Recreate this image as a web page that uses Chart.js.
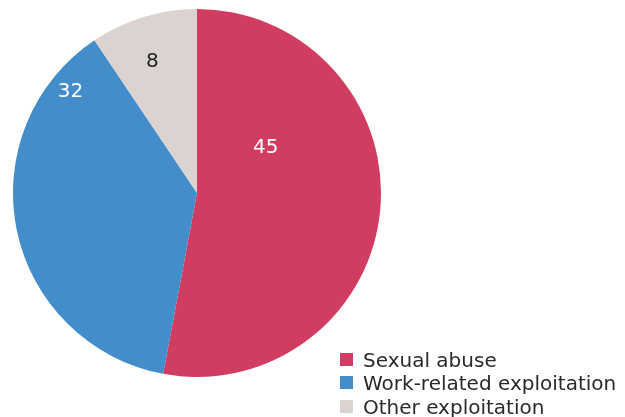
<!DOCTYPE html>
<html><head><meta charset="utf-8">
<script src="https://cdn.jsdelivr.net/npm/chart.js@4"></script>
<style>html,body{margin:0;padding:0;background:#fff}#wrap{width:625px;height:417px}</style>
</head><body><div id="wrap"><canvas id="c" width="625" height="417"></canvas></div>
<script>
const categories = ["Sexual abuse", "Work-related exploitation", "Other exploitation"];
const values = [45, 32, 8];
const colors = ["#d13d60", "#428dca", "#dbd3d0"];
const labelColors = ["#ffffff", "#ffffff", "#222222"];
// label placement: fraction along the segment's angle, fraction of the radius
const labelAngleFrac = [0.294, 0.874, 0.45];
const labelRadiusFrac = [0.45, 0.886, 0.76];

const FONT = '20px "DejaVu Sans", Verdana, sans-serif';

const labelPlugin = {
  id: 'sliceLabels',
  afterDatasetsDraw(chart) {
    const ctx = chart.ctx;
    const meta = chart.getDatasetMeta(0);
    ctx.save();
    ctx.font = FONT;
    ctx.textAlign = 'center';
    ctx.textBaseline = 'middle';
    meta.data.forEach((arc, i) => {
      const p = arc.getProps(['x','y','startAngle','endAngle','outerRadius'], true);
      const a = p.startAngle + (p.endAngle - p.startAngle) * labelAngleFrac[i];
      const r = p.outerRadius * labelRadiusFrac[i];
      ctx.fillStyle = labelColors[i];
      ctx.fillText(String(values[i]), p.x + Math.cos(a) * r, p.y + Math.sin(a) * r + 1);
    });
    ctx.restore();
  }
};

const legendPlugin = {
  id: 'customLegend',
  afterDraw(chart) {
    const ctx = chart.ctx;
    ctx.save();
    ctx.font = FONT;
    ctx.textBaseline = 'alphabetic';
    ctx.textAlign = 'left';
    const x0 = 340, y0 = 359, step = 23.5, box = 13;
    categories.forEach((c, i) => {
      const y = y0 + i * step;
      ctx.fillStyle = colors[i];
      ctx.fillRect(x0, Math.round(y - box / 2), box, box);
      ctx.fillStyle = '#2a2a2a';
      ctx.fillText(c, x0 + 23, y + 7.5);
    });
    ctx.restore();
  }
};

new Chart(document.getElementById('c'), {
  type: 'pie',
  data: {
    labels: categories,
    datasets: [{ data: values, backgroundColor: colors, borderWidth: 0, hoverOffset: 0 }]
  },
  options: {
    responsive: false,
    animation: false,
    layout: { padding: { left: 13, right: 244, top: 9, bottom: 40 } },
    plugins: { legend: { display: false }, tooltip: { enabled: false } }
  },
  plugins: [labelPlugin, legendPlugin]
});
</script></body></html>
